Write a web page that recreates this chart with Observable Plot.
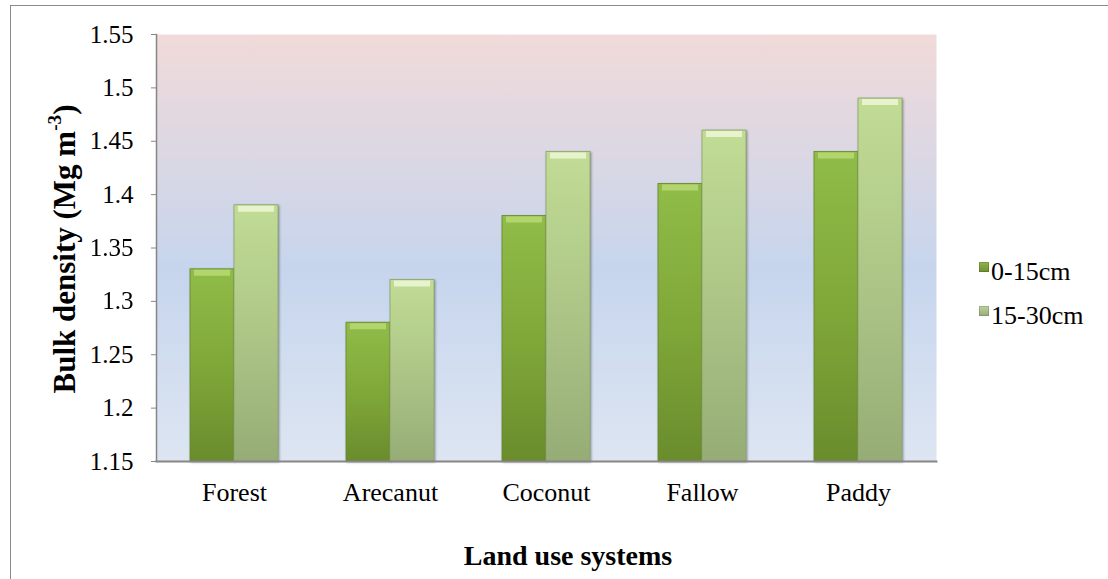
<!DOCTYPE html>
<html>
<head>
<meta charset="utf-8">
<script src="https://cdn.jsdelivr.net/npm/d3@7"></script>
<script src="https://cdn.jsdelivr.net/npm/@observablehq/plot@0.6"></script>
<style>
  html, body { margin: 0; padding: 0; background: #fff; }
  #wrap { position: relative; width: 1108px; height: 579px; overflow: hidden; }
  #wrap, #wrap div, #wrap span, #wrap sup, #wrap svg, #wrap svg text, #wrap svg g { font-family: "Liberation Serif", "Times New Roman", Tinos, serif !important; }
  #border { position: absolute; left: 10px; top: 5px; width: 1200px; height: 700px; border-left: 1px solid #8a8a8a; border-top: 1px solid #8a8a8a; }
  #chart { position: absolute; left: 0; top: 0; }
  #chart svg { overflow: visible; }
  #chart g[aria-label="bar"] { filter: drop-shadow(1.5px 1px 1.2px rgba(0,0,0,0.35)); }
  #ylabel { position: absolute; left: 64px; top: 249px; transform: translate(-50%, -50%) rotate(-90deg); font-size: 31px; font-weight: bold; line-height: 1; white-space: nowrap; color: #000; }
  #ylabel sup { font-size: 0.62em; position: relative; top: -0.2em; vertical-align: top; line-height: 1; }
  #xlabel { position: absolute; left: 568px; top: 542px; transform: translateX(-50%); font-size: 28px; font-weight: bold; line-height: 1; white-space: nowrap; color: #000; }
  #legend { position: absolute; left: 979px; top: 250px; font-size: 26px; line-height: 44px; color: #000; font-weight: normal; }
  #legend .sw { display: inline-block; width: 10px; height: 10px; vertical-align: 8px; margin-right: 2px; box-shadow: inset 0 0 0 1px rgba(0,0,0,0.15); }
</style>
</head>
<body>
<div id="wrap">
  <div id="border"></div>
  <div id="chart"></div>
  <div id="ylabel">Bulk density (Mg m<sup>-3</sup>)</div>
  <div id="xlabel">Land use systems</div>
  <div id="legend"></div>
</div>
<script>
// ---- data ----
const landUse = ["Forest", "Arecanut", "Coconut", "Fallow", "Paddy"];
const depths = ["0-15cm", "15-30cm"];
const depth0to15 = [1.33, 1.28, 1.38, 1.41, 1.44];
const depth15to30 = [1.39, 1.32, 1.44, 1.46, 1.49];
const yDomain = [1.15, 1.55];
const yTicks = [1.15, 1.2, 1.25, 1.3, 1.35, 1.4, 1.45, 1.5, 1.55];

const rowsA = landUse.map((l, i) => ({land: l, depth: depths[0], value: depth0to15[i]}));
const rowsB = landUse.map((l, i) => ({land: l, depth: depths[1], value: depth15to30[i]}));

const gray = "#868686";
const serif = "'Liberation Serif', 'Times New Roman', serif";

const plot = Plot.plot({
  width: 1108,
  height: 579,
  marginLeft: 155,
  marginRight: 172,
  marginTop: 34,
  marginBottom: 118,
  style: {fontSize: "25px", fontFamily: serif, background: "transparent"},
  fx: {domain: landUse, padding: 0, label: null},
  x: {domain: depths, paddingInner: 0, paddingOuter: 0.735, axis: null},
  y: {domain: yDomain, axis: null},
  marks: [
    Plot.frame({facet: "super", fill: "url(#bgGrad)", stroke: "none"}),
    Plot.barY(rowsA, {fx: "land", x: "depth", y1: () => yDomain[0], y2: "value", fill: "url(#gDark)", stroke: "#66872a", strokeWidth: 0.8, inset: 0}),
    Plot.barY(rowsB, {fx: "land", x: "depth", y1: () => yDomain[0], y2: "value", fill: "url(#gLight)", stroke: "#8ca36a", strokeWidth: 0.8, inset: 0}),
    Plot.tickY(rowsA, {fx: "land", x: "depth", y: "value", stroke: "#b2d56e", strokeWidth: 6, dy: 3.5, insetLeft: 4, insetRight: 4}),
    Plot.tickY(rowsB, {fx: "land", x: "depth", y: "value", stroke: "#e6f3cc", strokeWidth: 6, dy: 3.5, insetLeft: 4, insetRight: 4}),
    Plot.frame({facet: "super", anchor: "left", stroke: gray, strokeWidth: 1.5}),
    Plot.frame({facet: "super", anchor: "bottom", stroke: gray, strokeWidth: 2}),
    Plot.axisY({ticks: yTicks, tickFormat: d => String(+d.toFixed(2)), tickSize: 5, tickPadding: 18, stroke: gray, fill: "#000", label: null, fontSize: 25, fontFamily: serif}),
    Plot.axisFx({anchor: "bottom", tickSize: 0, tickPadding: 21, fill: "#000", label: null, fontSize: 26, fontFamily: serif})
  ]
});

// gradients
const ns = "http://www.w3.org/2000/svg";
const svg = plot.tagName.toLowerCase() === "svg" ? plot : plot.querySelector("svg");
svg.setAttribute("font-family", serif);
const defs = document.createElementNS(ns, "defs");
function grad(id, stops) {
  const g = document.createElementNS(ns, "linearGradient");
  g.setAttribute("id", id);
  g.setAttribute("x1", "0"); g.setAttribute("y1", "0");
  g.setAttribute("x2", "0"); g.setAttribute("y2", "1");
  for (const [o, c] of stops) {
    const s = document.createElementNS(ns, "stop");
    s.setAttribute("offset", o);
    s.setAttribute("stop-color", c);
    g.appendChild(s);
  }
  defs.appendChild(g);
}
grad("bgGrad", [[0, "#f1dad9"], [0.55, "#c6d5ed"], [1, "#dde5f2"]]);
grad("gDark", [[0, "#90bc48"], [0.5, "#80a839"], [1, "#6a8c2d"]]);
grad("gLight", [[0, "#c1dc95"], [0.5, "#adc687"], [1, "#96ac76"]]);
svg.insertBefore(defs, svg.firstChild);

document.getElementById("chart").appendChild(plot);

// legend
const legend = document.getElementById("legend");
const swatchFill = ["linear-gradient(#8fb64a, #6f8f33)", "linear-gradient(#bcd39a, #97ad7c)"];
depths.forEach((d, i) => {
  const row = document.createElement("div");
  const sw = document.createElement("span");
  sw.className = "sw";
  sw.style.background = swatchFill[i];
  row.appendChild(sw);
  row.appendChild(document.createTextNode(d));
  legend.appendChild(row);
});
</script>
</body>
</html>
